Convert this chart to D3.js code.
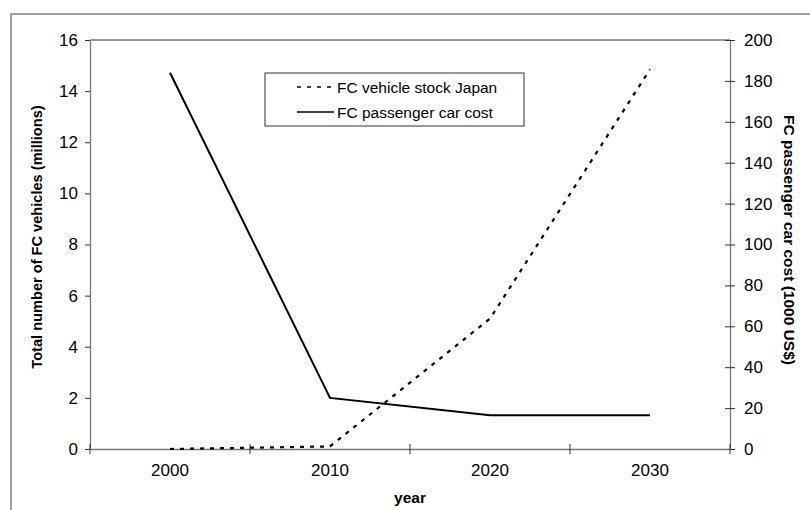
<!DOCTYPE html>
<html><head><meta charset="utf-8">
<script src="https://cdn.jsdelivr.net/npm/d3@7"></script>
<style>body{margin:0;background:#fff}svg{display:block}text{font-family:"Liberation Sans",Arial,sans-serif;fill:#000}</style>
</head><body><svg id="c" width="810" height="510"></svg>
<script>
const years = ["2000","2010","2020","2030"];
const stockJapan = [0, 0.1, 5.1, 14.85];
const carCost = [184, 25, 16.5, 16.5];
const leftTicks = [0,2,4,6,8,10,12,14,16];
const rightTicks = [0,20,40,60,80,100,120,140,160,180,200];
const seriesNames = ["FC vehicle stock Japan","FC passenger car cost"];

const svg = d3.select("#c");
const L=90, R=730, T=40, B=449;
const FS = 17;
svg.append("rect").attr("x",11).attr("y",14).attr("width",830).attr("height",530)
  .attr("fill","none").attr("stroke","#808080").attr("stroke-width",1.5);

const x = d3.scaleBand().domain(years).range([L,R]);
const yL = d3.scaleLinear().domain([0,16]).range([B,T]);
const yR = d3.scaleLinear().domain([0,200]).range([B,T]);
const cx = d => x(d)+x.bandwidth()/2;

svg.append("line").attr("x1",L).attr("x2",R).attr("y1",T).attr("y2",T).attr("stroke","#333").attr("stroke-width",1);

const gL = svg.append("g").attr("transform",`translate(${L},0)`).call(d3.axisLeft(yL).tickValues(leftTicks).tickSize(5).tickPadding(7).tickSizeOuter(0));
const gR = svg.append("g").attr("transform",`translate(${R},0)`).call(d3.axisRight(yR).tickValues(rightTicks).tickSize(5).tickPadding(9).tickSizeOuter(0));
gR.selectAll(".tick line").attr("x1",-5);
const gB = svg.append("g").attr("transform",`translate(0,${B})`).call(d3.axisBottom(x).tickSize(0).tickPadding(15).tickSizeOuter(0));
const bounds = years.map(d=>x(d)).concat([R]);
gB.selectAll(".bt").data(bounds).enter().append("line").attr("class","bt")
  .attr("x1",d=>d).attr("x2",d=>d).attr("y1",-5).attr("y2",5).attr("stroke","#333");

[gL,gR,gB].forEach(g=>{
  g.attr("font-size",FS).attr("font-family","Liberation Sans, Arial, sans-serif");
  g.select(".domain").attr("stroke","#777").attr("stroke-width",1.3);
  g.selectAll(".tick line").attr("stroke","#333");
  g.selectAll("text").style("font-size",FS+"px").attr("fill","#000");
});

const lineStock = d3.line().x((d,i)=>cx(years[i])).y(d=>yL(d));
const lineCost = d3.line().x((d,i)=>cx(years[i])).y(d=>yR(d));
svg.append("path").datum(stockJapan).attr("d",lineStock).attr("fill","none").attr("stroke","#000").attr("stroke-width",2.2).attr("stroke-dasharray","4,6");
svg.append("path").datum(carCost).attr("d",lineCost).attr("fill","none").attr("stroke","#000").attr("stroke-width",2);

svg.append("text").attr("transform","translate(42,237) rotate(-90)").attr("text-anchor","middle").style("font-size","14.6px").attr("font-weight","bold").text("Total number of FC vehicles (millions)");
svg.append("text").attr("transform","translate(784,240) rotate(90)").attr("text-anchor","middle").style("font-size","15.5px").attr("font-weight","bold").text("FC passenger car cost (1000 US$)");
svg.append("text").attr("x",410).attr("y",503).attr("text-anchor","middle").style("font-size","15.5px").attr("font-weight","bold").text("year");

const lg = svg.append("g");
lg.append("rect").attr("x",265).attr("y",73).attr("width",259).attr("height",53).attr("fill","#fff").attr("stroke","#333").attr("stroke-width",1);
const dashes = ["4,6", null];
seriesNames.forEach((n,i)=>{
  const yy = 87 + i*25;
  const ln = lg.append("line").attr("x1",297).attr("x2",334).attr("y1",yy).attr("y2",yy).attr("stroke","#000").attr("stroke-width",i?1.6:1.4);
  if(dashes[i]) ln.attr("stroke-dasharray",dashes[i]);
  lg.append("text").attr("x",337).attr("y",yy+5.5).style("font-size","15.5px").text(n);
});
</script></body></html>
